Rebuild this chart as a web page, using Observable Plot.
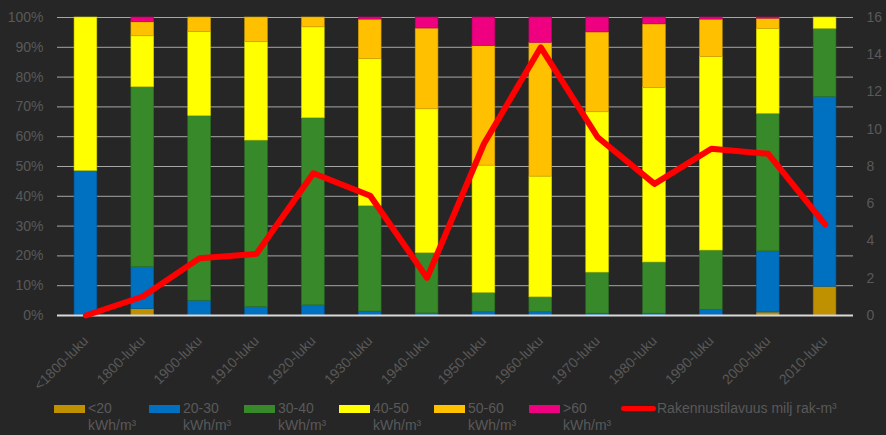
<!DOCTYPE html>
<html>
<head>
<meta charset="utf-8">
<script src="https://cdn.jsdelivr.net/npm/d3@7"></script>
<script src="https://cdn.jsdelivr.net/npm/@observablehq/plot@0.6"></script>
<style>
  html, body { margin: 0; padding: 0; background: #262626; }
  #wrap { position: relative; width: 886px; height: 435px; background: #262626; font-family: "Liberation Sans", Arial, sans-serif; overflow: hidden; }
  #chart svg text { font-family: "Liberation Sans", Arial, sans-serif !important; font-size: 14px !important; }
  #legend { position: absolute; left: 0; top: 400px; width: 886px; height: 35px; }
  .item { position: absolute; top: 0; color: #595959; font-size: 14px; line-height: 17px; }
  .sw { position: absolute; left: 0; top: 5px; width: 31px; height: 8px; }
  .lbl { position: absolute; left: 34px; top: 0; white-space: nowrap; }
  .ln { position: absolute; left: 0; top: 6px; width: 35px; height: 5px; border-radius: 3px; background: #ff0000; }
</style>
</head>
<body>
<div id="wrap"><div id="chart"></div><div id="legend"></div></div>
<script>
const categories = ["<1800-luku","1800-luku","1900-luku","1910-luku","1920-luku","1930-luku","1940-luku","1950-luku","1960-luku","1970-luku","1980-luku","1990-luku","2000-luku","2010-luku"];
const seriesNames = ["<20", "20-30", "30-40", "40-50", "50-60", ">60"];
const seriesColors = ["#BF9000", "#0070C0", "#37892A", "#FFFF00", "#FFC000", "#EE0080"];
const s_lt20  = [0,   2.1, 0,    0,    0,    0,    0,    0,    0,    0,    0,    0,    1.0,  9.6];
const s_20_30 = [48.5,14.1,4.9,  2.8,  3.4,  1.3,  0.7,  1.1,  1.1,  0.6,  0.6,  1.9,  20.5, 63.7];
const s_30_40 = [0,   60.4,62.0, 55.9, 62.8, 35.4, 20.2, 6.5,  5.0,  13.8, 17.2, 19.9, 46.2, 22.9];
const s_40_50 = [51.5,17.1,28.2, 33.0, 30.5, 49.3, 48.3, 42.7, 40.5, 53.8, 58.5, 64.9, 28.5, 3.8];
const s_50_60 = [0,   4.7, 4.9,  8.3,  3.3,  13.3, 27.1, 40.1, 44.9, 26.8, 21.4, 12.6, 3.4,  0];
const s_gt60  = [0,   1.6, 0,    0,    0,    0.7,  3.7,  9.6,  8.5,  5.0,  2.3,  0.7,  0.4,  0];
const volume  = [0,   1.02,3.08, 3.31, 7.64, 6.43, 2.02, 9.22, 14.4, 9.57, 7.07, 8.95, 8.68, 4.89];
const leftTicks = [0,10,20,30,40,50,60,70,80,90,100];
const rightTicks = [0,2,4,6,8,10,12,14,16];
const rightMax = 16;
const unitLabel = "kWh/m³";
const lineLabel = "Rakennustilavuus milj rak-m³";

const seriesArrays = [s_lt20, s_20_30, s_30_40, s_40_50, s_50_60, s_gt60];
const barData = [];
categories.forEach((c, i) => {
  seriesNames.forEach((s, j) => barData.push({cat: c, series: s, value: seriesArrays[j][i]}));
});
const lineData = categories.map((c, i) => ({cat: c, v: volume[i] * 100 / rightMax}));
const strokeMap = new Map(seriesNames.map((s, j) => [s, d3.color(seriesColors[j]).darker(0.6).formatHex()]));

const chart = Plot.plot({
  width: 886,
  height: 400,
  marginLeft: 57,
  marginRight: 33,
  marginTop: 17,
  marginBottom: 85,
  style: {background: "#262626", fontFamily: "Liberation Sans, Arial, sans-serif", fontSize: "14px", color: "#595959"},
  x: {domain: categories, paddingInner: 0.6, paddingOuter: 0.3, round: false, label: null, axis: null},
  y: {domain: [0, 100], label: null},
  color: {domain: seriesNames, range: seriesColors},
  marks: [
    Plot.ruleY(leftTicks.filter(d => d > 0), {stroke: "#a6a6a6", strokeWidth: 1}),
    Plot.barY(barData, Plot.stackY({order: seriesNames}, {x: "cat", y: "value", z: "series", fill: "series", stroke: d => strokeMap.get(d.series), strokeWidth: 0.6})),
    Plot.ruleY([0], {stroke: "#d9d9d9", strokeWidth: 2}),
    Plot.line(lineData, {x: "cat", y: "v", stroke: "#ff0000", strokeWidth: 6, strokeLinejoin: "round", strokeLinecap: "round"}),
    Plot.axisY({ticks: leftTicks, tickFormat: d => d + "%", tickSize: 0, tickPadding: 14, fill: "#595959", fontSize: 14, label: null}),
    Plot.axisY({anchor: "right", ticks: rightTicks.map(t => t * 100 / rightMax), tickFormat: d => String(Math.round(d * rightMax / 100)), tickSize: 0, tickPadding: 13, fill: "#595959", fontSize: 14, label: null}),
    Plot.text(categories, {x: d => d, frameAnchor: "bottom", text: d => d, rotate: -45, textAnchor: "end", lineAnchor: "middle", dy: 23, dx: 0, fill: "#595959", fontSize: 14})
  ]
});
document.getElementById("chart").appendChild(chart);

const legend = document.getElementById("legend");
const step = 95;
seriesNames.forEach((s, j) => {
  const it = document.createElement("div");
  it.className = "item";
  it.style.left = (54 + j * step) + "px";
  it.innerHTML = `<div class="sw" style="background:${seriesColors[j]}"></div><div class="lbl">${s}<br>${unitLabel}</div>`;
  legend.appendChild(it);
});
const li = document.createElement("div");
li.className = "item";
li.style.left = "621px";
li.innerHTML = `<div class="ln"></div><div class="lbl" style="left:36px">${lineLabel}</div>`;
legend.appendChild(li);
</script>
</body>
</html>
